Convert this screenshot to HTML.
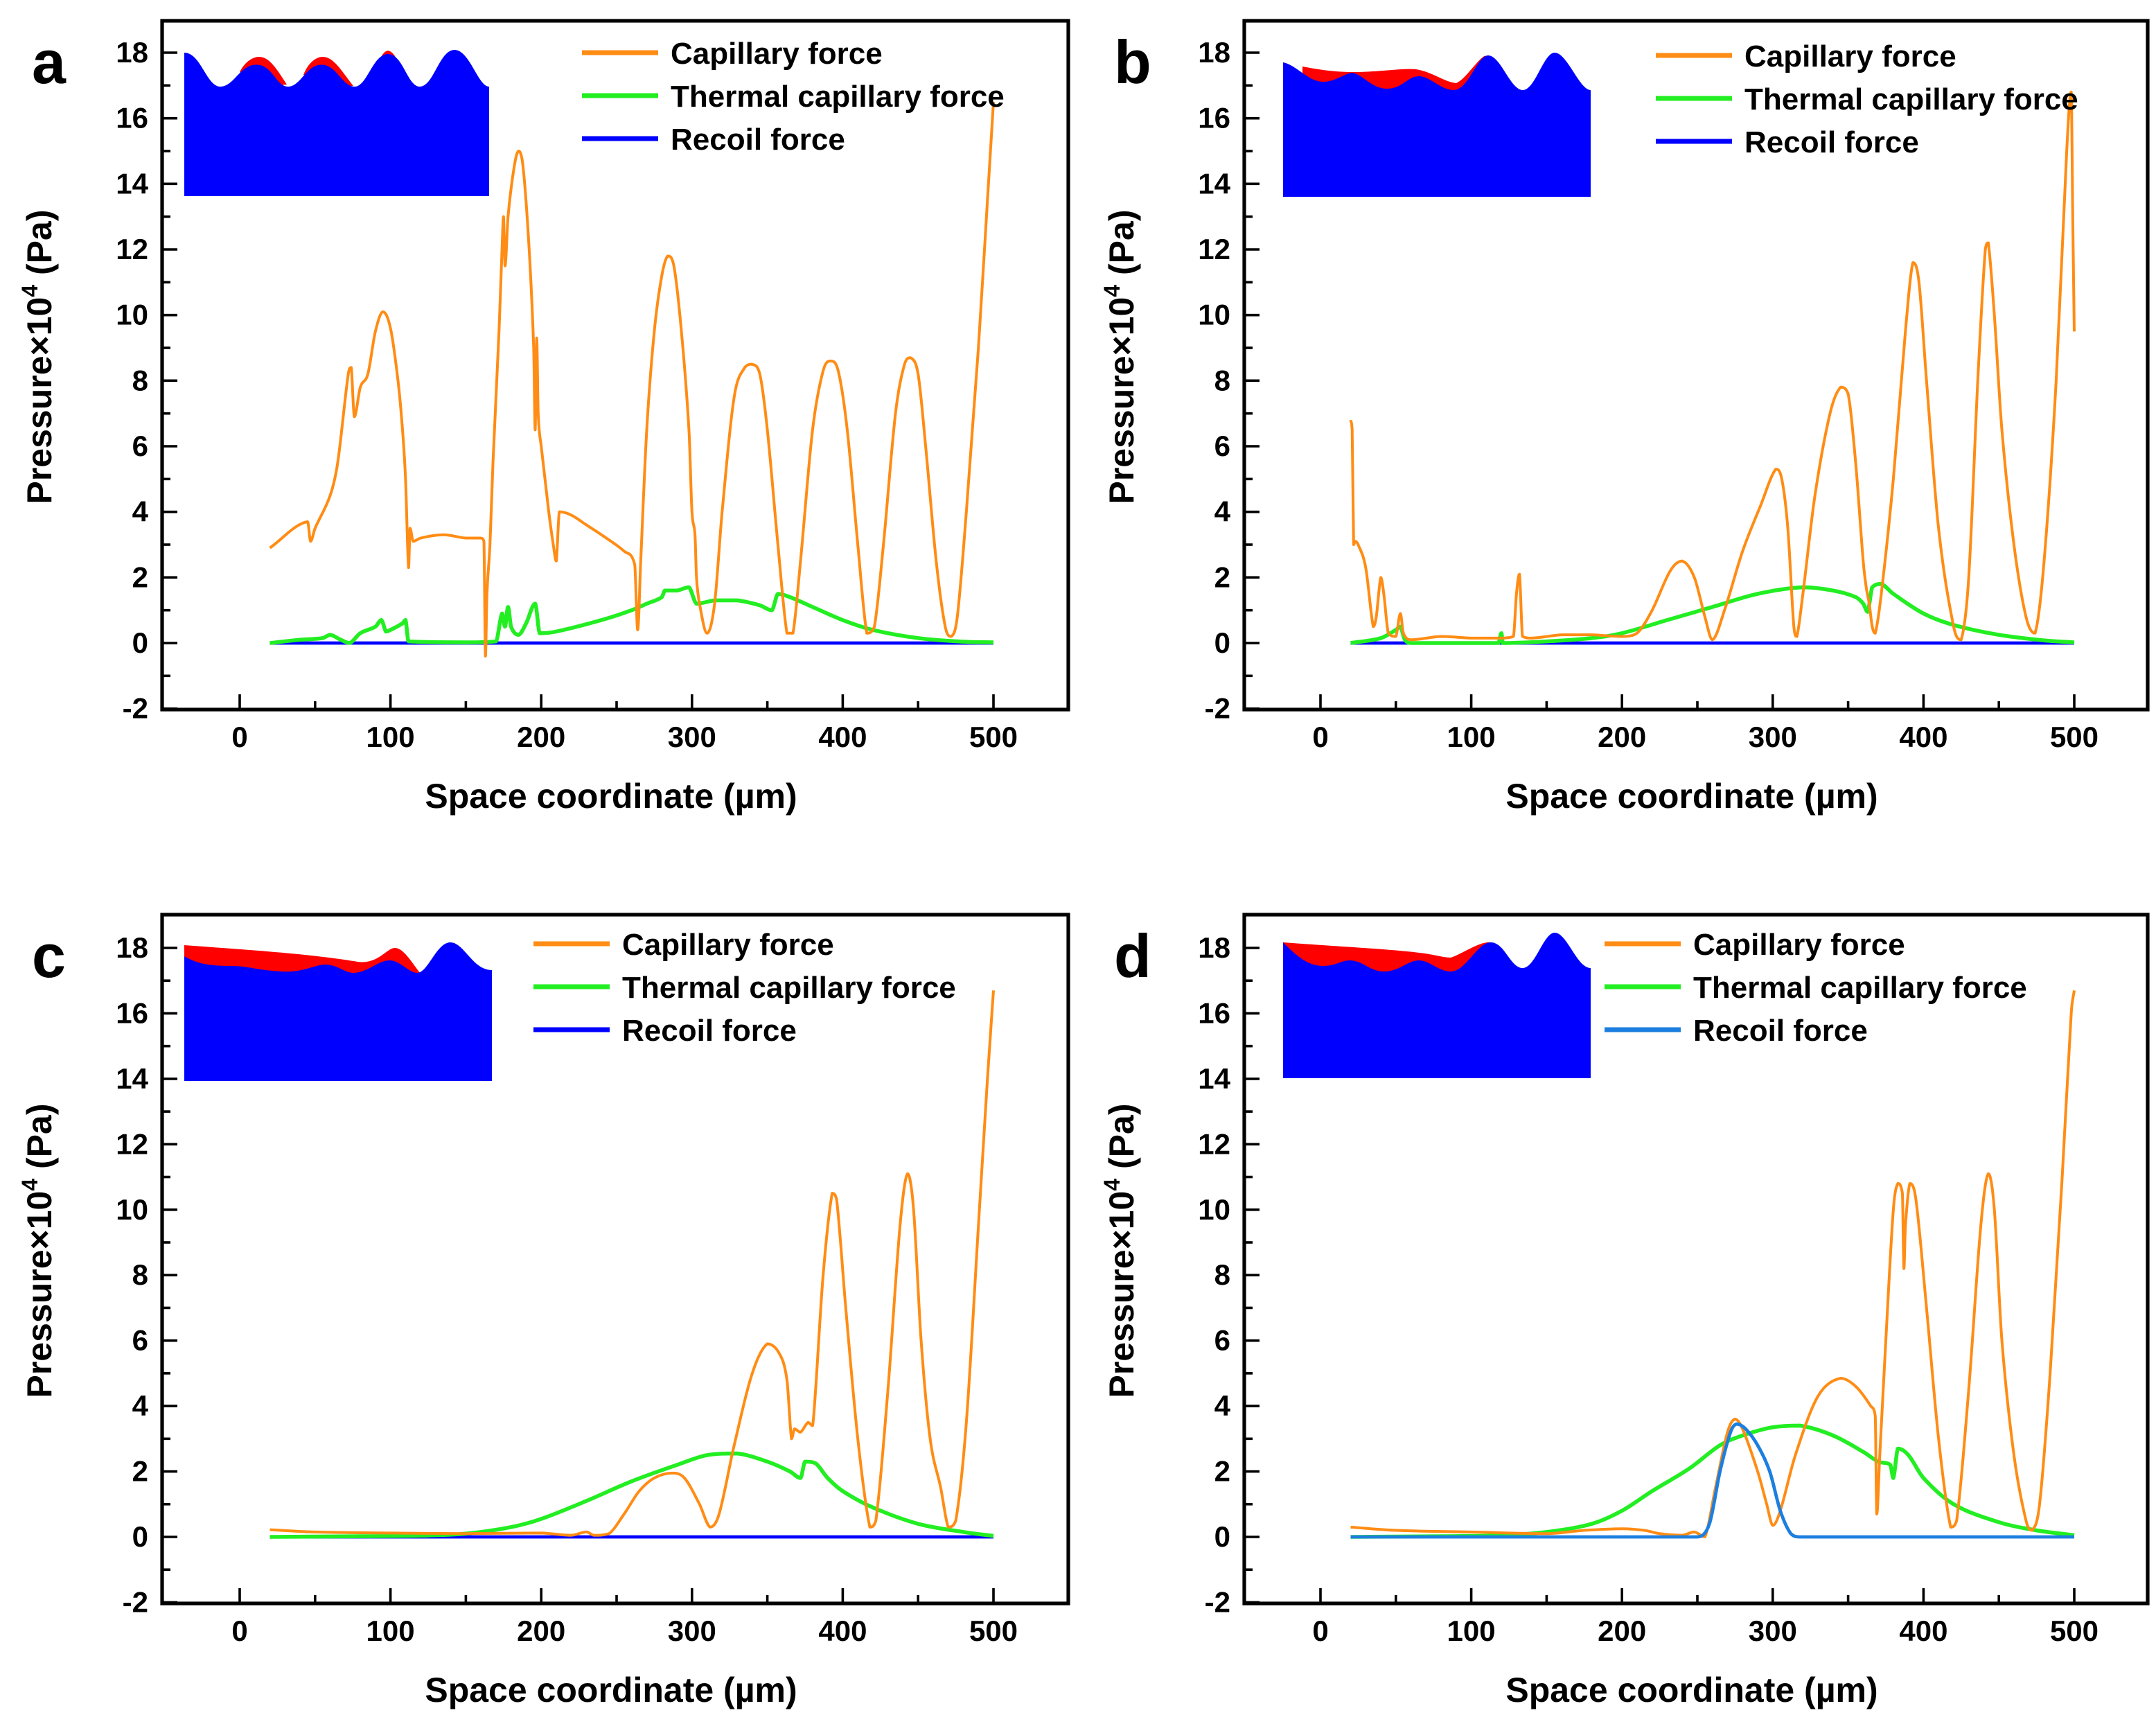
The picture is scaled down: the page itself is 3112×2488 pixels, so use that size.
<!DOCTYPE html>
<html><head><meta charset="utf-8"><style>
html,body{margin:0;padding:0;background:#fff;}
svg{display:block;}
text{font-family:"Liberation Sans Narrow","Liberation Sans",sans-serif;font-weight:bold;fill:#000;}
</style></head><body>
<svg id="fig" xmlns="http://www.w3.org/2000/svg" width="3112" height="2488" viewBox="0 0 1556 1244">
<rect width="1556" height="1244" fill="#fff"/>
</svg>
<script>
const xTicks = [0,100,200,300,400,500];
const yTicks = [-2,0,2,4,6,8,10,12,14,16,18];
const legendLabels = ["Capillary force","Thermal capillary force","Recoil force"];
const panelLetters = ["a","b","c","d"];

const capA = [[20,2.9],[45,3.7],[47,3.1],[50,3.5],[60,4.5],[65,5.5],[72,8.2],[74,8.4],[76,6.9],[80,7.8],[85,8.2],[90,9.5],[95,10.1],[100,9.6],[105,8.0],[108,6.5],[110,5.0],[112,2.3],[113,3.5],[115,3.1],[120,3.2],[135,3.3],[150,3.2],[160,3.2],[162,3.1],[163,-0.4],[164,1.5],[166,3.0],[168,5.5],[172,9.5],[174,12.0],[175,13.0],[176,11.5],[178,13.0],[182,14.5],[185,15.0],[188,14.5],[192,12.0],[195,9.0],[196,6.5],[197,9.3],[198,7.0],[200,6.0],[205,4.0],[208,3.0],[210,2.5],[212,4.0],[220,3.9],[230,3.6],[240,3.3],[255,2.8],[262,2.4],[264,0.4],[266,2.5],[270,6.5],[275,9.5],[280,11.2],[284,11.8],[288,11.5],[293,9.5],[298,6.5],[300,4.0],[302,3.3],[303,2.0],[305,1.2],[310,0.3],[315,1.2],[320,4.0],[328,7.5],[335,8.4],[340,8.5],[345,8.2],[350,6.5],[357,3.0],[363,0.3],[367,0.3],[372,2.5],[380,6.5],[387,8.3],[392,8.6],[397,8.3],[403,6.5],[410,3.0],[416,0.3],[421,0.5],[427,3.0],[435,7.0],[441,8.5],[445,8.7],[450,8.2],[455,6.0],[462,2.5],[468,0.5],[472,0.2],[476,0.8],[482,4.0],[490,9.0],[496,13.5],[500,16.5]];
const thermA = [[20,0],[40,0.1],[55,0.15],[60,0.25],[67,0.1],[73,0.0],[80,0.3],[90,0.5],[94,0.7],[97,0.35],[100,0.4],[108,0.6],[110,0.7],[112,0.05],[150,0.02],[170,0.05],[174,0.9],[176,0.5],[178,1.1],[180,0.5],[185,0.25],[190,0.6],[196,1.2],[199,0.3],[210,0.35],[240,0.7],[260,1.0],[270,1.2],[280,1.4],[282,1.6],[290,1.6],[298,1.7],[303,1.2],[315,1.3],[330,1.3],[345,1.15],[353,1.0],[357,1.5],[365,1.4],[380,1.1],[400,0.7],[420,0.4],[450,0.15],[480,0.04],[500,0.02]];
const recA = [[20,0],[500,0]];

const capB = [[20,6.8],[21,6.5],[22,3.0],[23,3.1],[25,3.0],[30,2.3],[35,0.5],[37,0.8],[40,2.0],[42,1.5],[45,0.3],[50,0.2],[53,0.9],[55,0.3],[60,0.1],[80,0.2],[100,0.15],[120,0.15],[128,0.2],[130,1.5],[132,2.1],[134,0.2],[140,0.15],[160,0.25],[180,0.25],[200,0.2],[210,0.3],[220,1.0],[232,2.2],[240,2.5],[248,2.0],[255,0.8],[260,0.1],[268,1.0],[280,2.8],[292,4.2],[302,5.3],[306,5.0],[310,3.5],[314,0.5],[316,0.2],[320,1.5],[328,4.5],[338,7.0],[345,7.8],[350,7.6],[355,5.5],[360,2.5],[362,1.7],[364,1.2],[366,0.5],[368,0.3],[372,1.5],[380,5.0],[388,9.5],[393,11.6],[397,11.0],[402,8.0],[410,3.5],[420,0.5],[425,0.1],[430,2.0],[436,8.0],[441,12.0],[443,12.2],[447,10.0],[452,6.5],[460,3.0],[468,0.8],[474,0.3],[480,2.5],[488,8.0],[495,15.0],[498,16.8],[499,13.0],[500,9.5]];
const thermB = [[20,0],[40,0.15],[50,0.4],[53,0.5],[56,0.1],[60,0.0],[118,0.0],[120,0.3],[121,0.0],[150,0.05],[180,0.15],[200,0.3],[230,0.7],[260,1.1],[290,1.5],[320,1.7],[340,1.6],[355,1.4],[360,1.2],[363,0.95],[366,1.7],[372,1.8],[380,1.5],[400,0.9],[420,0.55],[450,0.25],[480,0.08],[500,0.02]];
const recB = [[20,0],[500,0]];

const capC = [[20,0.22],[50,0.15],[100,0.12],[150,0.1],[200,0.12],[220,0.05],[230,0.15],[235,0.05],[245,0.1],[255,0.7],[265,1.4],[275,1.8],[287,1.95],[295,1.8],[305,1.0],[312,0.3],[318,0.7],[328,2.8],[340,5.0],[350,5.9],[358,5.6],[363,4.8],[366,3.0],[368,3.3],[372,3.2],[377,3.5],[380,3.4],[382,4.5],[387,8.0],[393,10.5],[396,10.3],[402,7.0],[410,3.0],[418,0.3],[422,0.5],[430,4.5],[438,9.5],[443,11.1],[447,10.0],[452,6.0],[458,3.0],[465,1.5],[470,0.3],[475,0.5],[482,3.5],[490,9.5],[496,14.0],[500,16.7]];
const thermC = [[20,0],[80,0.02],[120,0.04],[150,0.1],[180,0.3],[200,0.55],[230,1.1],[260,1.7],[290,2.2],[310,2.5],[330,2.55],[350,2.3],[365,2.0],[372,1.8],[375,2.3],[382,2.25],[390,1.8],[400,1.4],[420,0.9],[450,0.4],[480,0.15],[500,0.03]];
const recC = [[20,0],[500,0]];

const capD = [[20,0.3],[50,0.2],[100,0.15],[150,0.1],[175,0.2],[200,0.25],[215,0.2],[225,0.1],[240,0.05],[248,0.15],[255,0.0],[262,1.5],[270,3.2],[275,3.6],[280,3.3],[290,2.0],[296,1.0],[300,0.35],[305,0.8],[315,2.5],[330,4.3],[345,4.85],[355,4.6],[365,4.0],[368,3.7],[369,0.7],[371,2.5],[375,6.0],[380,10.0],[383,10.8],[386,10.5],[387,8.2],[388,9.5],[391,10.8],[395,10.3],[402,7.0],[410,3.0],[418,0.3],[422,0.5],[430,4.5],[438,9.5],[443,11.1],[447,10.0],[452,6.0],[460,2.5],[468,0.5],[472,0.2],[477,1.0],[484,5.0],[492,11.0],[498,16.0],[500,16.7]];
const thermD = [[20,0],[80,0.02],[120,0.05],[150,0.15],[180,0.4],[200,0.8],[220,1.4],[245,2.1],[265,2.8],[280,3.1],[300,3.35],[318,3.4],[340,3.1],[360,2.6],[370,2.3],[378,2.2],[380,1.8],[383,2.7],[390,2.5],[400,1.8],[420,1.0],[450,0.45],[475,0.2],[500,0.05]];
const recD = [[20,0],[250,0],[258,0.4],[265,2.0],[272,3.2],[276,3.45],[282,3.3],[290,2.8],[298,2.0],[305,0.8],[312,0.1],[318,0],[500,0]];

const NS = "http://www.w3.org/2000/svg";
const svg = document.getElementById("fig");
function mk(tag, parent, attrs){
  const e = document.createElementNS(NS, tag);
  for (const k in attrs) e.setAttribute(k, attrs[k]);
  parent.appendChild(e);
  return e;
}
function smoothPath(P){
  const n = P.length;
  const m = P.map((p,i) => {
    const a = P[i>0?i-1:i], b = P[i<n-1?i+1:i];
    const dx = b[0]-a[0];
    return dx === 0 ? 0 : (b[1]-a[1])/dx;
  });
  let d = "M" + P[0][0].toFixed(2) + "," + P[0][1].toFixed(2);
  for (let i=0;i<n-1;i++){
    const p1 = P[i], p2 = P[i+1];
    const h = (p2[0]-p1[0])/3;
    let c1y = p1[1] + m[i]*h, c2y = p2[1] - m[i+1]*h;
    const lo = Math.min(p1[1],p2[1]), hi = Math.max(p1[1],p2[1]);
    c1y = Math.min(hi, Math.max(lo, c1y));
    c2y = Math.min(hi, Math.max(lo, c2y));
    d += " C" + (p1[0]+h).toFixed(2)+","+c1y.toFixed(2)+" "+(p2[0]-h).toFixed(2)+","+c2y.toFixed(2)+" "+p2[0].toFixed(2)+","+p2[1].toFixed(2);
  }
  return d;
}

const panels = [
  {id:"a", box:[117,15,771,512], x0:173, x500:717, y18:38, y0:464, series:[capA,thermA,recA], recColor:"#0000ff",
   leg:[420,38,31], inset:[133,38], insetType:1, recTop:false},
  {id:"b", box:[898,15,1550,512], x0:953, x500:1497, y18:38, y0:464, series:[capB,thermB,recB], recColor:"#0000ff",
   leg:[1195,40,31], inset:[926,45], insetType:2, recTop:false},
  {id:"c", box:[117,660,771,1157], x0:173, x500:717, y18:684, y0:1109, series:[capC,thermC,recC], recColor:"#0000ff",
   leg:[385,681,31], inset:[133,682], insetType:3, recTop:false},
  {id:"d", box:[898,660,1550,1157], x0:953, x500:1497, y18:684, y0:1109, series:[capD,thermD,recD], recColor:"#1c7fe0",
   leg:[1158,681,31], inset:[926,680], insetType:4, recTop:true}
];
const colors = ["#ff8c14","#22ee22"];

panels.forEach((p, pi) => {
  const g = mk("g", svg, {});
  
  
  const xs = v => p.x0 + (v/500)*(p.x500-p.x0);
  const ys = v => p.y0 - (v/18)*(p.y0-p.y18);
  const [L,T,R,B] = p.box;

  const ig = mk("g", g, {transform:"translate("+p.inset[0]+","+p.inset[1]+")"});
  
  
  if (p.insetType === 1) {
    mk("path", ig, {d:"M40,14 C44,6 50,3 54,3 C62,3 68,14 74,23 L60,24 Z", fill:"#ff0000"});
    mk("path", ig, {d:"M86,16 C90,6 96,3 100,3 C108,3 114,14 122,24 L110,24 Z", fill:"#ff0000"});
    mk("path", ig, {d:"M138,12 C142,2 144,-1 147,-1.5 C150,-1 152,2 154,6 Z", fill:"#ff0000"});
    mk("path", ig, {d:"M0,0 C12,0 16,24.5 26,24.5 C36,24.5 40,8.7 52,8.7 C64,8.7 66,24.5 75,24.5 C84,24.5 88,8.7 99,8.7 C110,8.7 114,24.5 123,24.5 C132,24.5 136,1 147,1 C158,1 161,24.5 170,24.5 C180,24.5 184,-2 195,-2 C206,-2 212,24.5 220,24.5 L220,103.5 L0,103.5 Z", fill:"#0000ff"});
  } else if (p.insetType === 2) {
    mk("path", ig, {d:"M14,3 C30,6 40,7 50,7 C70,7 86,4 96,5 C108,7 116,14 125,15 C132,12 140,-2 146,-5 L140,22 L14,22 Z", fill:"#ff0000"});
    mk("path", ig, {d:"M0,0 C10,2 18,14 29,14 C38,14 44,8 50,7.5 C58,9 64,19 75,19 C86,19 90,10 98,10 C106,10 114,20 123,20 C134,20 140,-5 148,-5 C157,-5 164,20 173,20 C182,20 188,-7 196,-7 C205,-7 214,20 222,20 L222,97 L0,97 Z", fill:"#0000ff"});
  } else {
    const red = p.insetType===3
      ? "M0,0 C40,3 90,6 125,12 C140,14 146,2 152,2 C158,2 164,12 170,20 L150,26 L0,26 Z"
      : "M0,0 C40,3 80,5 100,7.7 C110,9 116,11 121,11 C130,8 142,-1 150,0 L150,24 L0,24 Z";
    mk("path", ig, {d:red, fill:"#ff0000"});
    const top = p.insetType===3
      ? "M0,8 C10,14 20,15 34,15 C46,15 52,18 70,19 C86,20 94,14 102,14 C110,14 116,20 122,20 C132,20 140,11 148,11 C156,11 162,20 168,20 C176,20 182,-2 192,-2 C202,-2 208,18 222,18"
      : "M0,0 C10,10 18,17 29,17 C38,17 42,13 48,13 C58,13 62,21 73,21 C84,21 90,13 98,13 C106,13 112,21 121,21 C132,21 140,0 150,0 C160,0 164,18.5 173,18.5 C182,18.5 188,-7 196,-7 C205,-7 212,18.5 222,18.5";
    mk("path", ig, {d: top + " L222,98 L0,98 Z", fill:"#0000ff"});
  }

  const fr = mk("rect", g, {x:L, y:T, width:R-L, height:B-T, fill:"none", stroke:"#000", "stroke-width":2.6});
  
  

  for (let v=0; v<=500; v+=50){
    const major = v%100===0;
    const t = mk("line", g, {x1:xs(v), x2:xs(v), y1:B, y2:B-(major?11:6), stroke:"#000", "stroke-width":1.8});
    
    
  }
  xTicks.forEach(v => {
    const t = mk("text", g, {x:xs(v), y:B+27, "font-size":21, "text-anchor":"middle"});
    t.textContent = v;
    
    
  });
  for (let v=-2; v<=18; v+=1){
    const major = v%2===0;
    const t = mk("line", g, {x1:L, x2:L+(major?11:6), y1:ys(v), y2:ys(v), stroke:"#000", "stroke-width":1.8});
    
    
  }
  yTicks.forEach(v => {
    const t = mk("text", g, {x:L-10, y:ys(v)+7, "font-size":21, "text-anchor":"end"});
    t.textContent = v;
    
    
  });
  const xt = mk("text", g, {x:(L+R)/2-3, y:B+71, "font-size":25, "text-anchor":"middle"});
  xt.textContent = "Space coordinate (\u00b5m)";
  
  
  const yt = mk("text", g, {transform:"translate("+(L-80)+","+((T+B)/2-6)+") rotate(-90)", "font-size":25, "text-anchor":"middle"});
  yt.innerHTML = 'Pressure\u00d710<tspan font-size="16" dy="-10">4</tspan><tspan dy="10"> (Pa)</tspan>';
  
  
  const pl = mk("text", g, {x:L-94, y:T+45, "font-size":44});
  pl.textContent = panelLetters[pi];
  
  

  const cols = [colors[0], colors[1], p.recColor];
  const widths = [2.0, 2.8, 2.4];
  const order = p.recTop ? [1,0,2] : [2,1,0];
  const names = ["capillary-force-line","thermal-capillary-force-line","recoil-force-line"];
  order.forEach(si => {
    const P = p.series[si].map(d => [xs(d[0]), ys(d[1])]);
    const pth = mk("path", g, {d:smoothPath(P), fill:"none", stroke:cols[si], "stroke-width":widths[si], "stroke-linejoin":"round"});
    
    
  });

  legendLabels.forEach((lab, i) => {
    const y = p.leg[1] + i*p.leg[2];
    const ln = mk("line", g, {x1:p.leg[0], x2:p.leg[0]+55, y1:y, y2:y, stroke:cols[i], "stroke-width":3.5});
    
    
    const tx = mk("text", g, {x:p.leg[0]+64, y:y+8, "font-size":22});
    tx.textContent = lab;
    
    
  });
});
</script>
</body></html>
